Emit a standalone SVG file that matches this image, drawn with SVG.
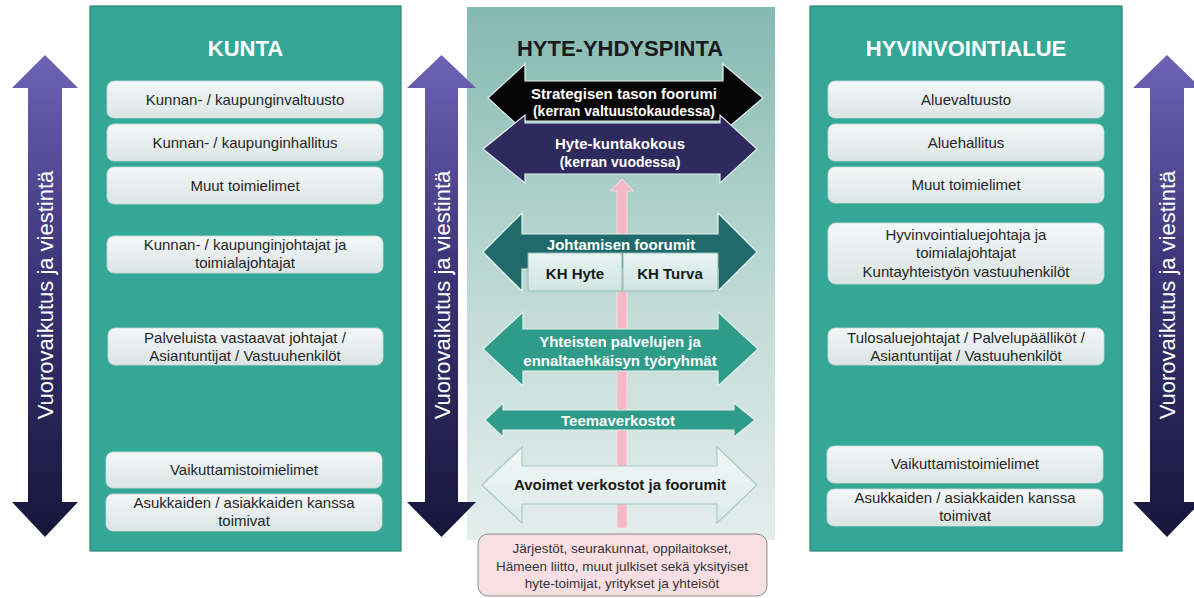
<svg xmlns="http://www.w3.org/2000/svg" width="1194" height="598" viewBox="0 0 1194 598">
<defs>
<linearGradient id="gArrowV" x1="0" y1="0" x2="0" y2="1">
<stop offset="0" stop-color="#6e62b6"/>
<stop offset="0.45" stop-color="#3c3477"/>
<stop offset="1" stop-color="#16163a"/>
</linearGradient>
<linearGradient id="gCenter" x1="0" y1="0" x2="0" y2="1">
<stop offset="0" stop-color="#84b9b1"/>
<stop offset="0.5" stop-color="#bcd8d4"/>
<stop offset="1" stop-color="#e4eeec"/>
</linearGradient>
<linearGradient id="gItem" x1="0" y1="0" x2="0" y2="1">
<stop offset="0" stop-color="#f4f7f7"/>
<stop offset="1" stop-color="#dbe5e4"/>
</linearGradient>
<linearGradient id="gKH" x1="0" y1="0" x2="0" y2="1">
<stop offset="0" stop-color="#e9f4f2"/>
<stop offset="1" stop-color="#cfe5e0"/>
</linearGradient>
<linearGradient id="gOpen" x1="0" y1="0" x2="0" y2="1">
<stop offset="0" stop-color="#f2f8f7"/>
<stop offset="1" stop-color="#dcebe8"/>
</linearGradient>
<style>
.panel{fill:#35a796;stroke:#2b8779;stroke-width:1.2}
.ptitle{font-family:"Liberation Sans",Arial,sans-serif;font-weight:bold;font-size:22px;fill:#ffffff;text-anchor:middle}
.ctitle{font-family:"Liberation Sans",Arial,sans-serif;font-weight:bold;font-size:22px;fill:#1a1a1a;text-anchor:middle}
.item{fill:url(#gItem);stroke:#c9d9d7;stroke-width:0.8}
.itxt{font-family:"Liberation Sans",Arial,sans-serif;font-size:15px;fill:#262626;text-anchor:middle}
.varrow{fill:url(#gArrowV)}
.vtxt{font-family:"Liberation Sans",Arial,sans-serif;font-size:22px;fill:#ffffff;text-anchor:middle}
.harrow{stroke:#e4efed;stroke-width:1.2}
.wtxt{font-family:"Liberation Sans",Arial,sans-serif;font-weight:bold;font-size:15px;fill:#ffffff;text-anchor:middle}
.wsm{font-family:"Liberation Sans",Arial,sans-serif;font-weight:bold;font-size:14px;fill:#ffffff;text-anchor:middle}
.dtxt{font-family:"Liberation Sans",Arial,sans-serif;font-weight:bold;font-size:15px;fill:#1a1a1a;text-anchor:middle}
.ptxt{font-family:"Liberation Sans",Arial,sans-serif;font-size:13.5px;fill:#333333;text-anchor:middle}
</style>
</defs>
<rect width="1194" height="598" fill="#ffffff"/>

<g id="center-panel">
<rect x="467" y="7" width="308" height="533" fill="url(#gCenter)"/>
<text class="ctitle" x="620" y="56">HYTE-YHDYSPINTA</text>
</g>

<g id="kunta">
<rect class="panel" x="90" y="6" width="311" height="545"/>
<text class="ptitle" x="245.5" y="56">KUNTA</text>
<rect class="item" x="107" y="81" width="276" height="37" rx="7"/>
<text class="itxt" x="245" y="105">Kunnan- / kaupunginvaltuusto</text>
<rect class="item" x="107" y="124" width="276" height="37" rx="7"/>
<text class="itxt" x="245" y="148">Kunnan- / kaupunginhallitus</text>
<rect class="item" x="107" y="167" width="276" height="37" rx="7"/>
<text class="itxt" x="245" y="191">Muut toimielimet</text>
<rect class="item" x="107" y="236" width="276" height="37" rx="7"/>
<text class="itxt" x="245" y="250">Kunnan- / kaupunginjohtajat ja</text>
<text class="itxt" x="245" y="268">toimialajohtajat</text>
<rect class="item" x="108" y="328" width="275" height="37" rx="7"/>
<text class="itxt" x="245" y="343">Palveluista vastaavat johtajat /</text>
<text class="itxt" x="245" y="361">Asiantuntijat / Vastuuhenkilöt</text>
<rect class="item" x="106" y="452" width="276" height="36" rx="7"/>
<text class="itxt" x="244" y="475">Vaikuttamistoimielimet</text>
<rect class="item" x="106" y="494" width="276" height="37" rx="7"/>
<text class="itxt" x="244" y="508">Asukkaiden / asiakkaiden kanssa</text>
<text class="itxt" x="244" y="526">toimivat</text>
</g>

<g id="hyvinvointialue">
<rect class="panel" x="810" y="6" width="312" height="545"/>
<text class="ptitle" x="966" y="56">HYVINVOINTIALUE</text>
<rect class="item" x="828" y="81" width="276" height="37" rx="7"/>
<text class="itxt" x="966" y="105">Aluevaltuusto</text>
<rect class="item" x="828" y="124" width="276" height="37" rx="7"/>
<text class="itxt" x="966" y="148">Aluehallitus</text>
<rect class="item" x="828" y="167" width="276" height="36" rx="7"/>
<text class="itxt" x="966" y="190">Muut toimielimet</text>
<rect class="item" x="828" y="223" width="276" height="61" rx="8"/>
<text class="itxt" x="966" y="240">Hyvinvointialuejohtaja ja</text>
<text class="itxt" x="966" y="258">toimialajohtajat</text>
<text class="itxt" x="966" y="277">Kuntayhteistyön vastuuhenkilöt</text>
<rect class="item" x="828" y="328" width="276" height="37" rx="7"/>
<text class="itxt" x="966" y="343">Tulosaluejohtajat / Palvelupäälliköt /</text>
<text class="itxt" x="966" y="361">Asiantuntijat / Vastuuhenkilöt</text>
<rect class="item" x="827" y="446" width="276" height="37" rx="7"/>
<text class="itxt" x="965" y="469">Vaikuttamistoimielimet</text>
<rect class="item" x="827" y="489" width="276" height="37" rx="7"/>
<text class="itxt" x="965" y="503">Asukkaiden / asiakkaiden kanssa</text>
<text class="itxt" x="965" y="521">toimivat</text>
</g>

<g id="arrow-left">
<polygon class="varrow" points="45,55 78,88 62,88 62,502 78,502 45,537 12,502 28,502 28,88 12,88"/>
<text class="vtxt" transform="translate(53,295) rotate(-90)">Vuorovaikutus ja viestintä</text>
</g>
<g id="arrow-middle">
<polygon class="varrow" points="441.5,55 476,88 458,88 458,502 476,502 441.5,537 407,502 425,502 425,88 407,88"/>
<text class="vtxt" transform="translate(450,295) rotate(-90)">Vuorovaikutus ja viestintä</text>
</g>
<g id="arrow-right">
<polygon class="varrow" points="1167,55 1201,88 1184,88 1184,502 1201,502 1167,537 1133,502 1150,502 1150,88 1133,88"/>
<text class="vtxt" transform="translate(1175,295) rotate(-90)">Vuorovaikutus ja viestintä</text>
</g>

<g id="connectors">
<polygon points="622,179 634,191 627,191 627,528 617,528 617,191 610,191" fill="#f5b9c5" stroke="#fbe3e8" stroke-width="0.8"/>
</g>

<g id="strategic-forum">
<polygon class="harrow" fill="#050505" points="488,98 525,64 525,81 723,81 723,64 763,98 723,132 723,121 525,121 525,132"/>
<text class="wtxt" x="624" y="99">Strategisen tason foorumi</text>
<text class="wsm" x="624" y="116">(kerran valtuustokaudessa)</text>
</g>

<g id="hyte-kuntakokous">
<polygon class="harrow" fill="#2f2a5e" points="483,149 525,115 525,123 720,123 720,115 757,149 720,183 720,174 525,174 525,183"/>
<text class="wtxt" x="620" y="149">Hyte-kuntakokous</text>
<text class="wsm" x="620" y="167">(kerran vuodessa)</text>
</g>

<g id="johtamisen-foorumit">
<polygon class="harrow" fill="#1f6a6a" points="483,252 522,213 522,234 718,234 718,213 757,252 718,291 718,269 522,269 522,291"/>
<text class="wtxt" x="621" y="250">Johtamisen foorumit</text>
</g>
<g id="kh-hyte">
<rect x="528" y="253" width="94" height="38" fill="url(#gKH)" stroke="#8fbdb5" stroke-width="1"/>
<text class="dtxt" x="575" y="279">KH Hyte</text>
</g>
<g id="kh-turva">
<rect x="623" y="253" width="95" height="38" fill="url(#gKH)" stroke="#8fbdb5" stroke-width="1"/>
<text class="dtxt" x="670" y="279">KH Turva</text>
</g>

<g id="yhteisten">
<polygon class="harrow" fill="#2e9c89" points="483,349 523,312 523,329 718,329 718,312 758,349 718,386 718,371 523,371 523,386"/>
<text class="wtxt" x="620" y="347">Yhteisten palvelujen ja</text>
<text class="wtxt" x="620" y="366">ennaltaehkäisyn työryhmät</text>
</g>

<g id="teemaverkostot">
<polygon class="harrow" fill="#2e9c89" points="485,420 503,403 503,410 734,410 734,403 755,420 734,437 734,430 503,430 503,437"/>
<text class="wtxt" x="618" y="426">Teemaverkostot</text>
</g>

<g id="avoimet">
<polygon fill="url(#gOpen)" stroke="#a6ccc5" stroke-width="1.2" points="482,485 522,447 522,466 717,466 717,447 757,485 717,523 717,504 522,504 522,523"/>
<text class="dtxt" x="620" y="490">Avoimet verkostot ja foorumit</text>
</g>

<g id="toimijat">
<rect x="478" y="534" width="289" height="62" rx="10" fill="#f9dfe3" stroke="#8e8e8e" stroke-width="1"/>
<text class="ptxt" x="622" y="553">Järjestöt, seurakunnat, oppilaitokset,</text>
<text class="ptxt" x="622" y="571">Hämeen liitto, muut julkiset sekä yksityiset</text>
<text class="ptxt" x="622" y="588">hyte-toimijat, yritykset ja yhteisöt</text>
</g>
</svg>
